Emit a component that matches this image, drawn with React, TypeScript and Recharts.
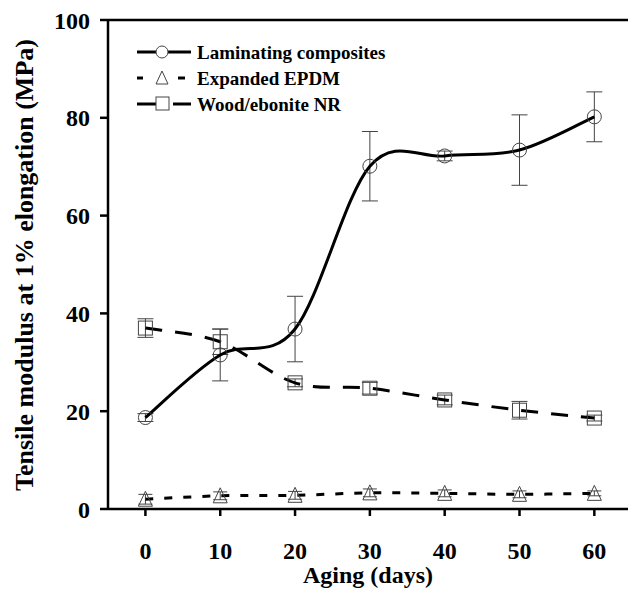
import { LineChart, Line, XAxis, YAxis, ErrorBar, ReferenceLine } from 'recharts';

const days = [0, 10, 20, 30, 40, 50, 60];
const laminating = [18.7, 31.5, 36.8, 70.1, 72.2, 73.4, 80.2];
const laminatingErr = [0.8, 5.3, 6.7, 7.1, 1.0, 7.2, 5.1];
const epdm = [2.0, 2.7, 2.8, 3.3, 3.2, 3.0, 3.2];
const epdmErr = [1.0, 0.8, 0.8, 0.8, 0.7, 0.7, 0.5];
const woodNR = [37.0, 34.2, 25.8, 24.7, 22.3, 20.2, 18.6];
const woodNRErr = [1.9, 2.6, 0.8, 1.2, 1.0, 1.8, 0.6];
const xTicks = [0, 10, 20, 30, 40, 50, 60];
const yTicks = [0, 20, 40, 60, 80, 100];

const data = days.map((d, i) => ({
  day: d,
  lam: laminating[i],
  lamErr: laminatingErr[i],
  epdm: epdm[i],
  epdmErr: epdmErr[i],
  nr: woodNR[i],
  nrErr: woodNRErr[i],
}));

const FONT = '"Liberation Serif", "Times New Roman", serif';
const MARK = '#444';

// smoothed line like the spreadsheet one (catmull-rom bezier)
const smoothCurve = (context: any) => {
  let pts: number[][] = [];
  return {
    areaStart() {},
    areaEnd() {},
    lineStart() {
      pts = [];
    },
    point(x: number, y: number) {
      pts.push([+x, +y]);
    },
    lineEnd() {
      if (!pts.length) return;
      context.moveTo(pts[0][0], pts[0][1]);
      for (let i = 0; i < pts.length - 1; i++) {
        const p0 = pts[Math.max(i - 1, 0)];
        const p1 = pts[i];
        const p2 = pts[i + 1];
        const p3 = pts[Math.min(i + 2, pts.length - 1)];
        context.bezierCurveTo(
          p1[0] + (p2[0] - p0[0]) / 6,
          p1[1] + (p2[1] - p0[1]) / 6,
          p2[0] - (p3[0] - p1[0]) / 6,
          p2[1] - (p3[1] - p1[1]) / 6,
          p2[0],
          p2[1]
        );
      }
    },
  };
};

const Circle = (p: any) => (
  <circle key={`c${p.index}`} cx={p.cx} cy={p.cy} r={7} fill="none" stroke={MARK} strokeWidth={1} />
);
const Square = (p: any) => (
  <rect key={`s${p.index}`} x={p.cx - 7} y={p.cy - 7} width={14} height={14} fill="none" stroke={MARK} strokeWidth={1} />
);
const Triangle = (p: any) => (
  <path
    key={`t${p.index}`}
    d={`M${p.cx},${p.cy - 8} L${p.cx + 7},${p.cy + 7} L${p.cx - 7},${p.cy + 7} Z`}
    fill="none"
    stroke={MARK}
    strokeWidth={1}
  />
);

const legendRows = [
  { name: 'Laminating composites', kind: 'circle' },
  { name: 'Expanded EPDM', kind: 'triangle' },
  { name: 'Wood/ebonite NR', kind: 'square' },
];

const LegendBox = () => (
  <svg width={300} height={84} style={{ position: 'absolute', left: 137, top: 40 }}>
    {legendRows.map((r, i) => {
      const y = 12 + i * 26;
      return (
        <g key={r.name}>
          {r.kind === 'circle' && (
            <>
              <line x1={0} x2={54} y1={y} y2={y} stroke="#000" strokeWidth={3} />
              <circle cx={25} cy={y} r={6} fill="#fff" stroke={MARK} />
            </>
          )}
          {r.kind === 'triangle' && (
            <>
              <line x1={0} x2={6} y1={y} y2={y} stroke="#000" strokeWidth={3} />
              <path d={`M25,${y - 7} L31,${y + 6} L19,${y + 6} Z`} fill="none" stroke={MARK} />
              <line x1={41} x2={48} y1={y} y2={y} stroke="#000" strokeWidth={3} />
            </>
          )}
          {r.kind === 'square' && (
            <>
              <line x1={0} x2={19} y1={y} y2={y} stroke="#000" strokeWidth={3} />
              <rect x={19} y={y - 7} width={13} height={13} fill="none" stroke={MARK} />
              <line x1={36} x2={54} y1={y} y2={y} stroke="#000" strokeWidth={3} />
            </>
          )}
          <text x={60} y={y} dominantBaseline="central" fontFamily={FONT} fontWeight="bold" fontSize={19} fill="#000">
            {r.name}
          </text>
        </g>
      );
    })}
  </svg>
);

const YLabel = () => (
  <text
    transform="translate(24, 265) rotate(-90)"
    textAnchor="middle"
    dominantBaseline="central"
    fontFamily={FONT}
    fontWeight="bold"
    fontSize={26}
    fill="#000"
  >
    Tensile modulus at 1% elongation (MPa)
  </text>
);

export default function App() {
  return (
    <div style={{ position: 'absolute', left: 0, top: 0, width: 628, height: 589, background: '#fff' }}>
      <LineChart width={628} height={589} data={data} margin={{ top: 20, right: 0, left: 0, bottom: 0 }}>
        <XAxis
          dataKey="day"
          type="number"
          domain={[-5, 64.5]}
          ticks={xTicks}
          allowDataOverflow
          height={80}
          stroke="#000"
          axisLine={{ stroke: '#000', strokeWidth: 2.5 }}
          tickLine={{ stroke: '#000', strokeWidth: 2.5 }}
          tickSize={7}
          tickMargin={26}
          tick={{ fill: '#000', fontSize: 24, fontWeight: 'bold', fontFamily: FONT }}
          label={{
            value: 'Aging (days)',
            position: 'insideBottom',
            offset: 6,
            fill: '#000',
            fontSize: 24,
            fontWeight: 'bold',
            fontFamily: FONT,
          }}
        />
        <YAxis
          type="number"
          domain={[0, 100]}
          ticks={yTicks}
          width={108}
          stroke="#000"
          axisLine={{ stroke: '#000', strokeWidth: 2.5 }}
          tickLine={{ stroke: '#000', strokeWidth: 2.5 }}
          tickSize={8}
          tickMargin={10}
          tick={{ fill: '#000', fontSize: 24, fontWeight: 'bold', fontFamily: FONT }}
          label={{ content: () => <YLabel /> }}
        />
        <ReferenceLine y={100} stroke="#000" strokeWidth={2.5} />
        <Line
          dataKey="epdm"
          type={smoothCurve as any}
          stroke="#000"
          strokeWidth={3}
          strokeDasharray="8 11"
          dot={Triangle}
          activeDot={false}
          isAnimationActive={false}
        >
          <ErrorBar dataKey="epdmErr" width={7} stroke={MARK} strokeWidth={1} direction="y" />
        </Line>
        <Line
          dataKey="nr"
          type={smoothCurve as any}
          stroke="#000"
          strokeWidth={3}
          strokeDasharray="17 13"
          dot={Square}
          activeDot={false}
          isAnimationActive={false}
        >
          <ErrorBar dataKey="nrErr" width={8} stroke={MARK} strokeWidth={1} direction="y" />
        </Line>
        <Line
          dataKey="lam"
          type={smoothCurve as any}
          stroke="#000"
          strokeWidth={3}
          dot={Circle}
          activeDot={false}
          isAnimationActive={false}
        >
          <ErrorBar dataKey="lamErr" width={8} stroke={MARK} strokeWidth={1} direction="y" />
        </Line>
      </LineChart>
      <LegendBox />
    </div>
  );
}
